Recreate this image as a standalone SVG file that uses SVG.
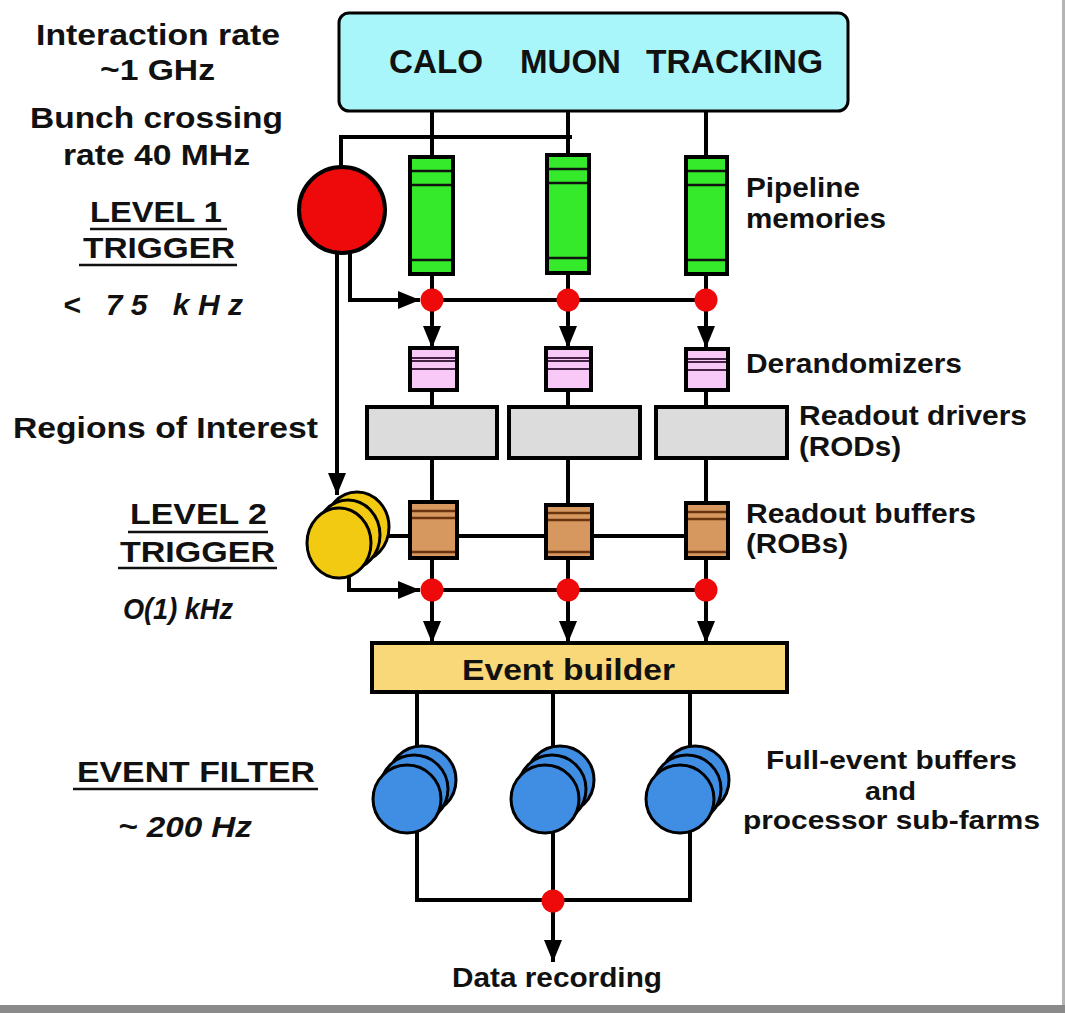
<svg xmlns="http://www.w3.org/2000/svg" width="1065" height="1013" viewBox="0 0 1065 1013">
<style>
  text { font-family: "Liberation Sans", Arial, sans-serif; font-weight: bold; fill: #111; }
  .big { font-size: 30px; }
  .lbl { font-size: 28px; }
  .sm { font-size: 25px; }
  .it { font-style: italic; }
  .wire { stroke: #000; stroke-width: 4; fill: none; }
  .ul { stroke: #111; stroke-width: 2.5; }
  .box { stroke: #000; stroke-width: 4; }
  .inner { stroke: #111; stroke-width: 2.5; }
  .dot { fill: #ee0a0a; }
  .yel { fill: #f2ca12; stroke: #000; stroke-width: 3; }
  .blu { fill: #3f8ee4; stroke: #000; stroke-width: 3; }
</style>
<defs>
  <marker id="arr" markerUnits="userSpaceOnUse" markerWidth="24" markerHeight="20" refX="22" refY="9" orient="auto">
    <path d="M0,0 L22,9 L0,18 z" fill="#000"/>
  </marker>
</defs>
<rect x="0" y="0" width="1065" height="1013" fill="#fff"/>
<rect x="1062" y="0" width="3" height="1013" fill="#b4b4b4"/>
<rect x="0" y="1005" width="1065" height="8" fill="#8a8a8a"/>

<g id="connectors">
  <path class="wire" d="M432,112 V157 M568,112 V155 M706,112 V157"/>
  <path class="wire" d="M572,137 H341 V168"/>
  <path class="wire" d="M432,274 V300 M568,273 V300 M706,274 V300 M432,300 H706"/>
  <path class="wire" d="M350,251 V300 H420" marker-end="url(#arr)"/>
  <path class="wire" d="M337,253 V495" marker-end="url(#arr)"/>
  <path class="wire" d="M432,300 V348" marker-end="url(#arr)"/>
  <path class="wire" d="M568,300 V348" marker-end="url(#arr)"/>
  <path class="wire" d="M706,300 V348" marker-end="url(#arr)"/>
  <path class="wire" d="M432,390 V407 M568,390 V407 M706,390 V407"/>
  <path class="wire" d="M432,458 V502 M568,458 V505 M706,458 V502"/>
  <path class="wire" d="M380,536 H706"/>
  <path class="wire" d="M432,558 V590 M568,558 V590 M706,558 V590 M432,590 H706"/>
  <path class="wire" d="M349,574 V590 H420" marker-end="url(#arr)"/>
  <path class="wire" d="M432,590 V643" marker-end="url(#arr)"/>
  <path class="wire" d="M568,590 V643" marker-end="url(#arr)"/>
  <path class="wire" d="M706,590 V643" marker-end="url(#arr)"/>
  <path class="wire" d="M417,692 V790 M553,692 V790 M690,692 V790"/>
  <path class="wire" d="M417,820 V900 H690 V820 M553,820 V900"/>
  <path class="wire" d="M553,900 V962" marker-end="url(#arr)"/>
  <circle class="dot" cx="432" cy="300" r="11.5"/>
  <circle class="dot" cx="568" cy="300" r="11.5"/>
  <circle class="dot" cx="706" cy="300" r="11.5"/>
  <circle class="dot" cx="432" cy="590" r="11.5"/>
  <circle class="dot" cx="568" cy="590" r="11.5"/>
  <circle class="dot" cx="706" cy="590" r="11.5"/>
  <circle class="dot" cx="553" cy="901" r="11.5"/>
</g>

<g id="detectors">
  <rect x="339" y="13" width="509" height="98" rx="10" fill="#a8f6fa" stroke="#000" stroke-width="3"/>
  <text x="389" y="73" style="font-size:33px" textLength="94" lengthAdjust="spacingAndGlyphs">CALO</text>
  <text x="520" y="73" style="font-size:33px" textLength="101" lengthAdjust="spacingAndGlyphs">MUON</text>
  <text x="646" y="73" style="font-size:33px" textLength="177" lengthAdjust="spacingAndGlyphs">TRACKING</text>
</g>

<g id="level1">
  <circle cx="342" cy="210" r="43" fill="#ee0a0a" stroke="#000" stroke-width="4"/>
</g>

<g id="pipelines">
  <rect class="box" x="410" y="157" width="43" height="117" fill="#34ea2a"/>
  <rect class="box" x="547" y="155" width="42" height="118" fill="#34ea2a"/>
  <rect class="box" x="686" y="157" width="41" height="117" fill="#34ea2a"/>
  <path class="inner" d="M412,171 H451 M412,185 H451 M412,260 H451 M549,169 H587 M549,183 H587 M549,258 H587 M688,171 H725 M688,185 H725 M688,260 H725"/>
</g>

<g id="derandomizers">
  <rect class="box" x="410" y="348" width="47" height="42" fill="#f8c8f6"/>
  <rect class="box" x="546" y="348" width="45" height="42" fill="#f8c8f6"/>
  <rect class="box" x="686" y="349" width="42" height="41" fill="#f8c8f6"/>
  <path stroke="#442244" stroke-width="2" d="M412,358 H455 M412,361 H455 M412,369 H455 M548,358 H589 M548,361 H589 M548,369 H589 M688,359 H726 M688,362 H726 M688,370 H726"/>
</g>

<g id="rods">
  <rect class="box" x="367" y="407" width="130" height="51" fill="#dcdcdc"/>
  <rect class="box" x="509" y="407" width="131" height="51" fill="#dcdcdc"/>
  <rect class="box" x="656" y="407" width="131" height="51" fill="#dcdcdc"/>
</g>

<g id="robs">
  <rect class="box" x="410" y="502" width="47" height="56" fill="#d6985e"/>
  <rect class="box" x="546" y="505" width="46" height="53" fill="#d6985e"/>
  <rect class="box" x="686" y="503" width="42" height="55" fill="#d6985e"/>
  <path stroke="#6a3410" stroke-width="2.5" d="M412,511 H455 M412,518 H455 M412,552 H455 M548,513 H590 M548,520 H590 M548,552 H590 M688,512 H726 M688,519 H726 M688,552 H726"/>
</g>

<g id="level2">
  <ellipse class="yel" cx="357" cy="527" rx="32" ry="35"/>
  <ellipse class="yel" cx="348" cy="535" rx="32" ry="35"/>
  <ellipse class="yel" cx="339" cy="543" rx="32" ry="35"/>
</g>

<g id="eventbuilder">
  <rect class="box" x="372" y="643" width="415" height="49" fill="#f8d878"/>
  <text class="big" x="462" y="680" textLength="213" lengthAdjust="spacingAndGlyphs">Event builder</text>
</g>

<g id="farms">
  <circle class="blu" cx="422" cy="780" r="34"/>
  <circle class="blu" cx="414" cy="789" r="34"/>
  <circle class="blu" cx="407" cy="799" r="34"/>
  <circle class="blu" cx="560" cy="780" r="34"/>
  <circle class="blu" cx="552" cy="789" r="34"/>
  <circle class="blu" cx="545" cy="799" r="34"/>
  <circle class="blu" cx="695" cy="780" r="34"/>
  <circle class="blu" cx="687" cy="789" r="34"/>
  <circle class="blu" cx="680" cy="799" r="34"/>
</g>

<g id="labels-left">
  <text class="big" x="36" y="45" textLength="244" lengthAdjust="spacingAndGlyphs">Interaction rate</text>
  <text class="big" x="100" y="80" textLength="115" lengthAdjust="spacingAndGlyphs">~1 GHz</text>
  <text class="big" x="30" y="128" textLength="253" lengthAdjust="spacingAndGlyphs">Bunch crossing</text>
  <text class="big" x="63" y="165" textLength="187" lengthAdjust="spacingAndGlyphs">rate 40 MHz</text>
  <text class="big" x="90" y="222" textLength="132" lengthAdjust="spacingAndGlyphs">LEVEL 1</text>
  <line class="ul" x1="90" y1="229" x2="227" y2="229"/>
  <text class="big" x="83" y="258" textLength="152" lengthAdjust="spacingAndGlyphs">TRIGGER</text>
  <line class="ul" x1="79" y1="265" x2="237" y2="265"/>
  <text class="big it" x="63" y="315" textLength="180" lengthAdjust="spacing">&lt; 75 kHz</text>
  <text class="big" x="13" y="438" textLength="305" lengthAdjust="spacingAndGlyphs">Regions of Interest</text>
  <text class="big" x="130" y="524" textLength="137" lengthAdjust="spacingAndGlyphs">LEVEL 2</text>
  <line class="ul" x1="128" y1="532" x2="268" y2="532"/>
  <text class="big" x="120" y="562" textLength="155" lengthAdjust="spacingAndGlyphs">TRIGGER</text>
  <line class="ul" x1="118" y1="568" x2="277" y2="568"/>
  <text class="big it" x="123" y="619" textLength="110" lengthAdjust="spacingAndGlyphs">O(1) kHz</text>
  <text class="big" x="77" y="782" textLength="238" lengthAdjust="spacingAndGlyphs">EVENT FILTER</text>
  <line class="ul" x1="73" y1="789" x2="318" y2="789"/>
  <text class="big it" x="118" y="837" textLength="134" lengthAdjust="spacingAndGlyphs">~ 200 Hz</text>
</g>

<g id="labels-right">
  <text class="lbl" x="746" y="197" textLength="114" lengthAdjust="spacingAndGlyphs">Pipeline</text>
  <text class="lbl" x="746" y="228" textLength="140" lengthAdjust="spacingAndGlyphs">memories</text>
  <text class="lbl" x="746" y="373" textLength="216" lengthAdjust="spacingAndGlyphs">Derandomizers</text>
  <text class="lbl" x="799" y="425" textLength="228" lengthAdjust="spacingAndGlyphs">Readout drivers</text>
  <text class="lbl" x="799" y="456" textLength="102" lengthAdjust="spacingAndGlyphs">(RODs)</text>
  <text class="lbl" x="746" y="523" textLength="230" lengthAdjust="spacingAndGlyphs">Readout buffers</text>
  <text class="lbl" x="746" y="553" textLength="102" lengthAdjust="spacingAndGlyphs">(ROBs)</text>
  <text class="sm" x="766" y="769" textLength="251" lengthAdjust="spacingAndGlyphs">Full-event buffers</text>
  <text class="sm" x="865" y="800" textLength="51" lengthAdjust="spacingAndGlyphs">and</text>
  <text class="sm" x="743" y="829" textLength="297" lengthAdjust="spacingAndGlyphs">processor sub-farms</text>
  <text class="lbl" x="452" y="987" textLength="210" lengthAdjust="spacingAndGlyphs">Data recording</text>
</g>
</svg>
